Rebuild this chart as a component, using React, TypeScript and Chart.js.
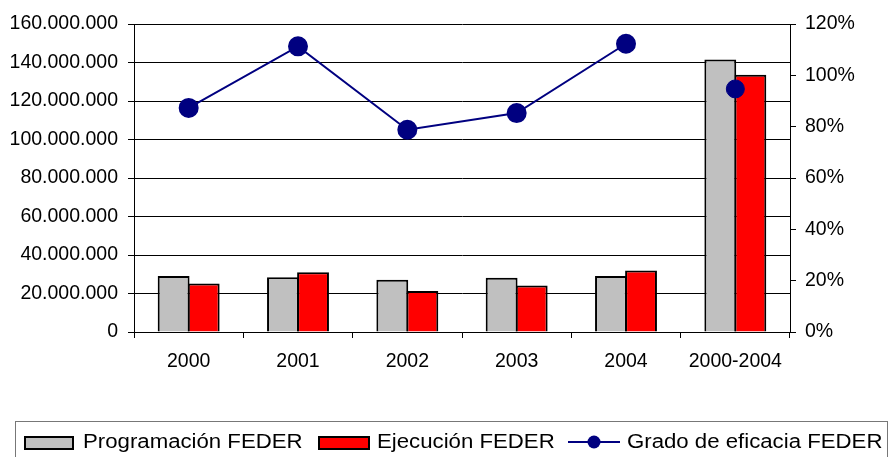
import React, { useEffect, useRef } from "react";
import { Chart, registerables } from "chart.js";

Chart.register(...registerables);

const categories = ["2000", "2001", "2002", "2003", "2004", "2000-2004"];
const programacion = [29.1e6, 28.4e6, 27.2e6, 28.2e6, 29.1e6, 141.5e6];
const ejecucion = [25.2e6, 31.0e6, 21.3e6, 24.2e6, 32.0e6, 133.7e6];
const eficaciaAnual = [87.3, 111.3, 78.8, 85.3, 112.3, null];
const eficaciaTotal = [null, null, null, null, null, 94.7];
const leftTicks = { min: 0, max: 160e6, step: 20e6 };
const rightTicks = { min: 0, max: 120, step: 20 };
const legendLabels = ["Programación FEDER", "Ejecución FEDER", "Grado de eficacia FEDER"];

const FONT = "Arial, 'Liberation Sans', sans-serif";

const fmtDots = (v: number) =>
  Math.round(v).toString().replace(/\B(?=(\d{3})+(?!\d))/g, ".");

const drawStretched = (ctx: CanvasRenderingContext2D, text: string, x: number, y: number) => {
  ctx.save();
  ctx.translate(x, y);
  ctx.scale(1.11, 1);
  ctx.fillText(text, 0, 0);
  ctx.restore();
};

const legendPlugin = {
  id: "customLegend",
  afterDraw(chart: any) {
    const ctx = chart.ctx as CanvasRenderingContext2D;
    ctx.save();
    ctx.strokeStyle = "#777";
    ctx.lineWidth = 1;
    ctx.strokeRect(15.5, 421.5, 872, 60);
    const cy = 442;
    ctx.font = `20px ${FONT}`;
    ctx.textBaseline = "middle";
    ctx.textAlign = "left";
    // item 1
    ctx.fillStyle = "#c0c0c0";
    ctx.fillRect(25, 437, 48, 12);
    ctx.strokeStyle = "#000";
    ctx.lineWidth = 2;
    ctx.strokeRect(25, 437, 48, 12);
    ctx.fillStyle = "#000";
    drawStretched(ctx, legendLabels[0], 83, cy);
    // item 2
    ctx.fillStyle = "#ff0000";
    ctx.fillRect(319, 437, 50, 12);
    ctx.strokeRect(319, 437, 50, 12);
    ctx.fillStyle = "#000";
    drawStretched(ctx, legendLabels[1], 377, cy);
    // item 3
    ctx.strokeStyle = "#000080";
    ctx.lineWidth = 2;
    ctx.beginPath();
    ctx.moveTo(568, cy);
    ctx.lineTo(620, cy);
    ctx.stroke();
    ctx.fillStyle = "#000080";
    ctx.beginPath();
    ctx.arc(594, cy, 6.5, 0, Math.PI * 2);
    ctx.fill();
    ctx.fillStyle = "#000";
    drawStretched(ctx, legendLabels[2], 627, cy);
    ctx.restore();
  },
};

export default function App() {
  const ref = useRef<HTMLCanvasElement | null>(null);
  useEffect(() => {
    document.body.style.margin = "0";
    const canvas = ref.current!;
    const chart = new Chart(canvas, {
      type: "bar",
      data: {
        labels: categories,
        datasets: [
          {
            type: "line",
            label: legendLabels[2],
            data: eficaciaAnual as any,
            yAxisID: "y1",
            borderColor: "#000080",
            backgroundColor: "#000080",
            borderWidth: 2,
            pointRadius: 9,
            pointBackgroundColor: "#000080",
            pointBorderColor: "#000080",
            spanGaps: false,
            order: 1,
          },
          {
            type: "line",
            label: legendLabels[2] + " total",
            data: eficaciaTotal as any,
            yAxisID: "y1",
            showLine: false,
            borderColor: "#000080",
            backgroundColor: "#000080",
            pointRadius: 9,
            pointBackgroundColor: "#000080",
            pointBorderColor: "#000080",
            order: 1,
          },
          {
            label: legendLabels[0],
            data: programacion,
            yAxisID: "y",
            backgroundColor: "#c0c0c0",
            borderColor: "#000",
            borderWidth: 2,
            borderSkipped: "bottom",
            barPercentage: 1.06,
            categoryPercentage: 0.55,
            order: 2,
          },
          {
            label: legendLabels[1],
            data: ejecucion,
            yAxisID: "y",
            backgroundColor: "#ff0000",
            borderColor: "#000",
            borderWidth: 2,
            borderSkipped: "bottom",
            barPercentage: 1.06,
            categoryPercentage: 0.55,
            order: 2,
          },
        ],
      },
      options: {
        responsive: false,
        animation: false,
        devicePixelRatio: 1,
        layout: { padding: { top: 24, bottom: 75, left: 0, right: 0 } },
        plugins: { legend: { display: false }, tooltip: { enabled: false } },
        scales: {
          x: {
            offset: true,
            grid: {
              offset: true,
              drawOnChartArea: false,
              drawTicks: true,
              tickLength: 6,
              color: "#000",
            },
            border: { color: "#000", width: 1 },
            ticks: { color: "#000", font: { family: FONT, size: 19.5 }, padding: 12 },
            afterFit: (s: any) => {
              s.height = 50;
            },
          },
          y: {
            position: "left",
            min: leftTicks.min,
            max: leftTicks.max,
            ticks: {
              stepSize: leftTicks.step,
              color: "#000",
              font: { family: FONT, size: 19.5 },
              padding: 10,
              callback: (v: any) => fmtDots(Number(v)),
            },
            grid: { color: "#000", lineWidth: 1, tickLength: 6, drawTicks: true },
            border: { color: "#000", width: 1 },
            afterFit: (s: any) => {
              s.width = 134;
            },
          },
          y1: {
            position: "right",
            min: rightTicks.min,
            max: rightTicks.max,
            ticks: {
              stepSize: rightTicks.step,
              color: "#000",
              font: { family: FONT, size: 19.5 },
              padding: 9,
              callback: (v: any) => `${v}%`,
            },
            grid: { drawOnChartArea: false, tickLength: 6, color: "#000" },
            border: { color: "#000", width: 1 },
            afterFit: (s: any) => {
              s.width = 103;
            },
          },
        },
      },
      plugins: [legendPlugin],
    });
    return () => chart.destroy();
  }, []);
  return (
    <div style={{ width: 893, height: 457, background: "#fff" }}>
      <canvas ref={ref} width={893} height={457} />
    </div>
  );
}
